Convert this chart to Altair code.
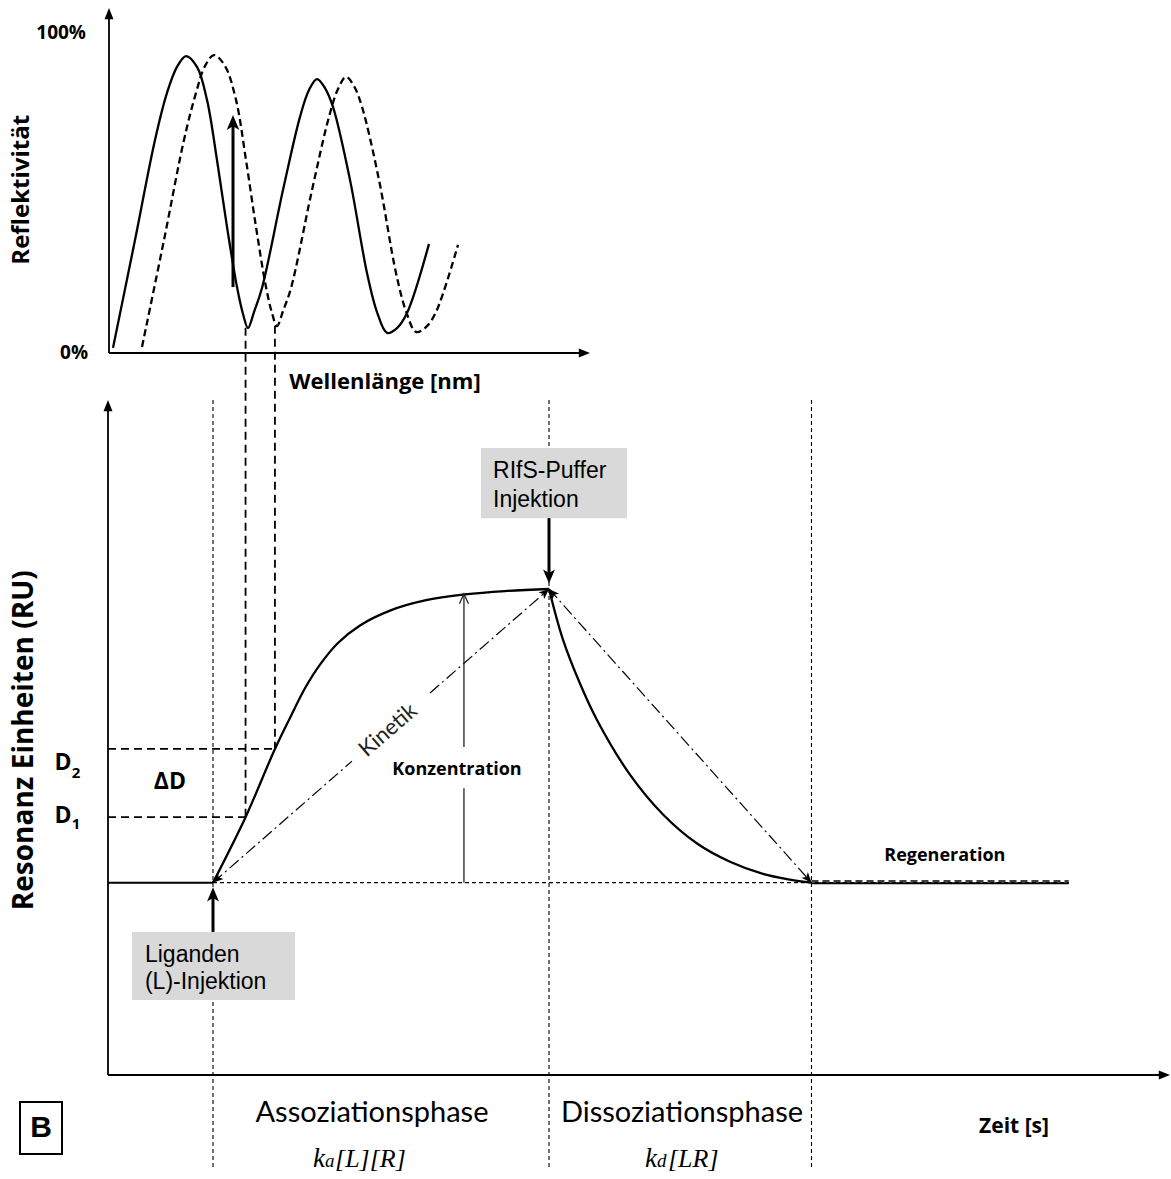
import altair as alt
import pandas as pd

# ---------------- top panel: reflectivity spectrum (arbitrary wavelength units, %) -------------
wl_solid = [4, 26, 46, 58, 68, 77, 88, 98, 108, 118, 128, 134, 139, 145, 153, 174, 191, 200, 208, 216,
            224, 241, 258, 268, 278, 288, 298, 320]
refl_solid = [1.6, 35.3, 66.6, 81.3, 89.4, 92.8, 89.4, 79.1, 60.3, 39.4, 20.6, 12.2, 7.8, 12.8, 20.3, 50.9,
              73.8, 82.2, 85.6, 82.8, 76.9, 54.1, 25.0, 12.8, 6.3, 7.8, 12.5, 34.1]
wl_dashed = [33, 55, 75, 87, 96, 105, 116, 127, 137, 147, 157, 163, 168, 174, 182, 203, 220, 229, 237, 245,
             253, 270, 287, 297, 307, 317, 327, 349]
refl_dashed = [1.9, 35.3, 66.6, 81.3, 89.7, 93.1, 89.7, 79.1, 60.3, 39.4, 20.6, 12.5, 8.4, 13.1, 20.3, 50.9,
               73.8, 82.5, 86.3, 83.4, 76.9, 54.1, 25.0, 13.1, 6.6, 8.1, 12.8, 33.8]
shift_wl = 124
shift_from, shift_to = 20.6, 74.4

# ---------------- bottom panel: sensorgram (s, RU) ----------------
assoc_t = [100, 131, 159, 173.3, 187.6, 201.9, 219.0, 240.0, 268.6, 301.9, 340.0, 378.1, 420]
assoc_ru = [28.5, 38.2, 48.3, 52.9, 57.3, 60.8, 64.0, 66.6, 68.8, 70.3, 71.2, 71.7, 72.0]
dissoc_t = [420, 433.3, 449.5, 465.7, 497.1, 528.6, 561.0, 592.4, 623.8, 649.5, 670]
dissoc_ru = [72.0, 64.5, 58.0, 52.6, 44.5, 38.6, 34.3, 31.6, 29.8, 28.95, 28.5]
t_inject, t_buffer, t_regen, t_end = 100, 420, 670, 915
ru_base, ru_peak, ru_d1, ru_d2 = 28.5, 72.0, 38.2, 48.3
t_d1, t_d2 = 131, 159

TX = alt.Scale(domain=[0, 482], range=[109, 591], nice=False, zero=False)
TY = alt.Scale(domain=[0, 100], range=[353, 33], nice=False, zero=False)
BX = alt.Scale(domain=[0, 1000], range=[108, 1158], nice=False, zero=False)
BY = alt.Scale(domain=[0, 100], range=[1075, 400], nice=False, zero=False)

HEAD = "M0,0L-0.42,1L0,0.75L0.42,1Z"      # concave filled arrow head, tip at origin, pointing up
TRI = "M0,0L-0.4,1L0.4,1Z"                # filled triangle
CHEV = "M-0.45,1L0,0L0.45,1"              # open chevron
BOLD = "Open Sans"
REG = "Lato"


def mk(df, mark, sx, sy, **kw):
    enc = {"x": alt.X("x:Q", scale=sx, axis=None),
           "y": alt.Y("y:Q", scale=sy, axis=None)}
    cols = df.columns
    if "x2" in cols:
        enc["x2"] = alt.X2("x2:Q")
    if "y2" in cols:
        enc["y2"] = alt.Y2("y2:Q")
    if "label" in cols:
        enc["text"] = alt.Text("label:N")
    if "rot" in cols:
        enc["angle"] = alt.Angle("rot:Q", scale=None)
    if "i" in cols:
        enc["order"] = alt.Order("i:Q")
    return getattr(alt.Chart(df), "mark_" + mark)(**kw).encode(**enc)


def segs(rows):
    return pd.DataFrame(rows, columns=["x", "y", "x2", "y2"])


def pts(rows):
    return pd.DataFrame(rows, columns=["x", "y", "rot"])


def labels(rows):
    return pd.DataFrame(rows, columns=["x", "y", "label"])


def curve(xs, ys):
    return pd.DataFrame({"x": xs, "y": ys, "i": list(range(len(xs)))})


# ---------------- top panel layers ----------------
top_layers = [
    mk(segs([(0, 0, 0, 105), (0, 0, 477, 0)]), "rule", TX, TY, color="black", strokeWidth=1.8),
    mk(pts([(0, 107.8, 0), (481, 0, 90)]), "point", TX, TY, shape=TRI, filled=True, size=500,
       color="black", opacity=1, strokeWidth=0),
    mk(curve(wl_solid, refl_solid), "line", TX, TY, interpolate="catmull-rom", color="black",
       strokeWidth=2.3),
    mk(curve(wl_dashed, refl_dashed), "line", TX, TY, interpolate="catmull-rom", color="black",
       strokeWidth=2.3, strokeDash=[7, 4]),
    mk(segs([(shift_wl, shift_from, shift_wl, shift_to - 3)]), "rule", TX, TY, color="black", strokeWidth=3),
    mk(pts([(shift_wl, shift_to, 0)]), "point", TX, TY, shape=HEAD, filled=True, size=900,
       color="black", opacity=1, strokeWidth=0),
    mk(labels([(-23, 100, "100%"), (-21, 0, "0%")]), "text", TX, TY,
       align="right", baseline="middle", font=BOLD, fontWeight="bold", fontSize=19, color="black"),
    mk(labels([(-87, 51, "Reflektivität")]), "text", TX, TY, align="center", baseline="middle",
       angle=270, font=BOLD, fontWeight="bold", fontSize=24, color="black"),
    mk(labels([(276, -9, "Wellenlänge [nm]")]), "text", TX, TY, align="center", baseline="middle",
       font=BOLD, fontWeight="bold", fontSize=22, color="black"),
]
top = alt.layer(*top_layers)

# ---------------- bottom panel layers ----------------
bot_layers = [
    # axes
    mk(segs([(0, 0, 0, 98.5), (0, 0, 1005, 0)]), "rule", BX, BY, color="black", strokeWidth=1.8),
    mk(pts([(0, 100, 0), (1011.4, 0, 90)]), "point", BX, BY, shape=TRI, filled=True, size=500,
       color="black", opacity=1, strokeWidth=0),
    # fine dotted phase lines and baseline
    mk(segs([(t_inject, 100, t_inject, -14), (t_buffer, 100, t_buffer, -14), (t_regen, 100, t_regen, -14),
             (t_inject, ru_base, t_end, ru_base)]), "rule", BX, BY,
       color="black", strokeWidth=1.1, strokeDash=[4, 3]),
    # D1 / D2 levels and connectors from the spectrum minima
    mk(segs([(0, ru_d1, t_d1, ru_d1), (0, ru_d2, t_d2, ru_d2),
             (t_d1, 110.7, t_d1, ru_d1), (t_d2, 111.0, t_d2, ru_d2)]), "rule", BX, BY,
       color="black", strokeWidth=1.8, strokeDash=[8, 5]),
    # baseline + regeneration
    mk(segs([(0, ru_base, t_inject, ru_base), (t_regen, 28.4, t_end, 28.4)]), "rule", BX, BY,
       color="black", strokeWidth=2),
    mk(segs([(t_regen, 28.75, t_end, 28.75)]), "rule", BX, BY, color="black", strokeWidth=1.6,
       strokeDash=[7, 4]),
    # sensorgram curves
    mk(curve(assoc_t, assoc_ru), "line", BX, BY, interpolate="catmull-rom", color="black", strokeWidth=2.3),
    mk(curve(dissoc_t, dissoc_ru), "line", BX, BY, interpolate="catmull-rom", color="black", strokeWidth=2.3),
    # kinetics dash-dot arrows
    mk(segs([(t_inject, ru_base, 232.4, 46.5), (306.7, 56.6, t_buffer, ru_peak),
             (t_buffer, ru_peak, t_regen, ru_base)]), "rule", BX, BY,
       color="black", strokeWidth=1.2, strokeDash=[12, 4, 2, 4]),
    mk(pts([(t_inject, ru_base, 228.8), (t_buffer, ru_peak, 48.8), (t_buffer, ru_peak, 318.2),
            (t_regen, ru_base, 138.2)]), "point", BX, BY, shape=HEAD, filled=True, size=420,
       color="black", opacity=1, strokeWidth=0),
    # concentration arrow
    mk(segs([(339, ru_base, 339, 42.5), (339, 48.6, 339, 71.3)]), "rule", BX, BY, color="#222",
       strokeWidth=1.3),
    mk(pts([(339, 71.3, 0)]), "point", BX, BY, shape=CHEV, filled=False, size=400, color="#222",
       opacity=1, strokeWidth=1.3),
    # grey injection boxes
    mk(segs([(22.9, 21.2, 178.1, 11.1), (355.2, 92.9, 494.3, 82.5)]), "rect", BX, BY, color="#d9d9d9",
       opacity=1),
    mk(segs([(t_inject, 21.2, t_inject, 26.3), (t_buffer, 82.5, t_buffer, 74.3)]), "rule", BX, BY,
       color="black", strokeWidth=3),
    mk(pts([(t_inject, 27.8, 0), (t_buffer, 72.8, 180)]), "point", BX, BY, shape=HEAD, filled=True,
       size=800, color="black", opacity=1, strokeWidth=0),
    mk(labels([(35.2, 16.7, "Liganden"), (35.2, 12.7, "(L)-Injektion"),
               (366.7, 88.4, "RIfS-Puffer"), (366.7, 84.1, "Injektion")]), "text", BX, BY,
       align="left", baseline="alphabetic", font="Liberation Sans", fontSize=23, color="black"),
    # B panel tag
    mk(segs([(-83.8, -4.0, -43.8, -11.7)]), "rect", BX, BY, fill="white", stroke="black",
       strokeWidth=2),
    mk(labels([(-63.8, -7.9, "B")]), "text", BX, BY, align="center", baseline="middle",
       font="Liberation Sans", fontWeight="bold", fontSize=30, color="black"),
    # axis title
    mk(labels([(-79, 49.6, "Resonanz Einheiten (RU)")]), "text", BX, BY, align="center",
       baseline="middle", angle=270, font=BOLD, fontWeight="bold", fontSize=28, color="black"),
    # D labels
    mk(labels([(-42.9, 46.2, "D"), (-42.9, 38.4, "D"), (59, 43.4, "ΔD")]), "text", BX, BY,
       align="center", baseline="middle", font=BOLD, fontWeight="bold", fontSize=23, color="black"),
    mk(labels([(-30.5, 44.8, "2"), (-30.5, 37.2, "1")]), "text", BX, BY, align="center",
       baseline="middle", font=BOLD, fontWeight="bold", fontSize=15, color="black"),
    mk(labels([(332.4, 45.2, "Konzentration"), (797, 32.4, "Regeneration")]), "text", BX, BY,
       align="center", baseline="middle", font=BOLD, fontWeight="bold", fontSize=18, color="black"),
    mk(labels([(266.7, 51.1, "Kinetik")]), "text", BX, BY, align="center", baseline="middle",
       angle=319, font=REG, fontSize=22, color="#222"),
    mk(labels([(251.4, -5.6, "Assoziationsphase"), (546.7, -5.6, "Dissoziationsphase")]), "text", BX, BY,
       align="center", baseline="middle", font=REG, fontSize=29, color="black"),
    mk(labels([(862.9, -7.7, "Zeit [s]")]), "text", BX, BY, align="center", baseline="middle",
       font=BOLD, fontWeight="bold", fontSize=21, color="black"),
    # rate expressions
    mk(labels([(195.2, -13.6, "k"), (511.4, -13.6, "k")]), "text", BX, BY, align="left",
       baseline="alphabetic", font="Liberation Serif", fontStyle="italic", fontSize=27, color="black"),
    mk(labels([(206.7, -13.6, "a"), (522.9, -13.6, "d")]), "text", BX, BY, align="left",
       baseline="alphabetic", font="Liberation Serif", fontStyle="italic", fontSize=19, color="black"),
    mk(labels([(216.2, -13.6, "[L][R]"), (533.3, -13.6, "[LR]")]), "text", BX, BY, align="left",
       baseline="alphabetic", font="Liberation Serif", fontStyle="italic", fontSize=26, color="black"),
]
bottom = alt.layer(*bot_layers)

chart = (
    alt.layer(top, bottom)
    .resolve_scale(x="independent", y="independent")
    .properties(width=1171, height=1179, padding=0, background="white",
                autosize=alt.AutoSizeParams(type="none"))
    .configure_view(stroke=None)
)

chart.save("out.html", embed_options={"renderer": "svg", "actions": False})
